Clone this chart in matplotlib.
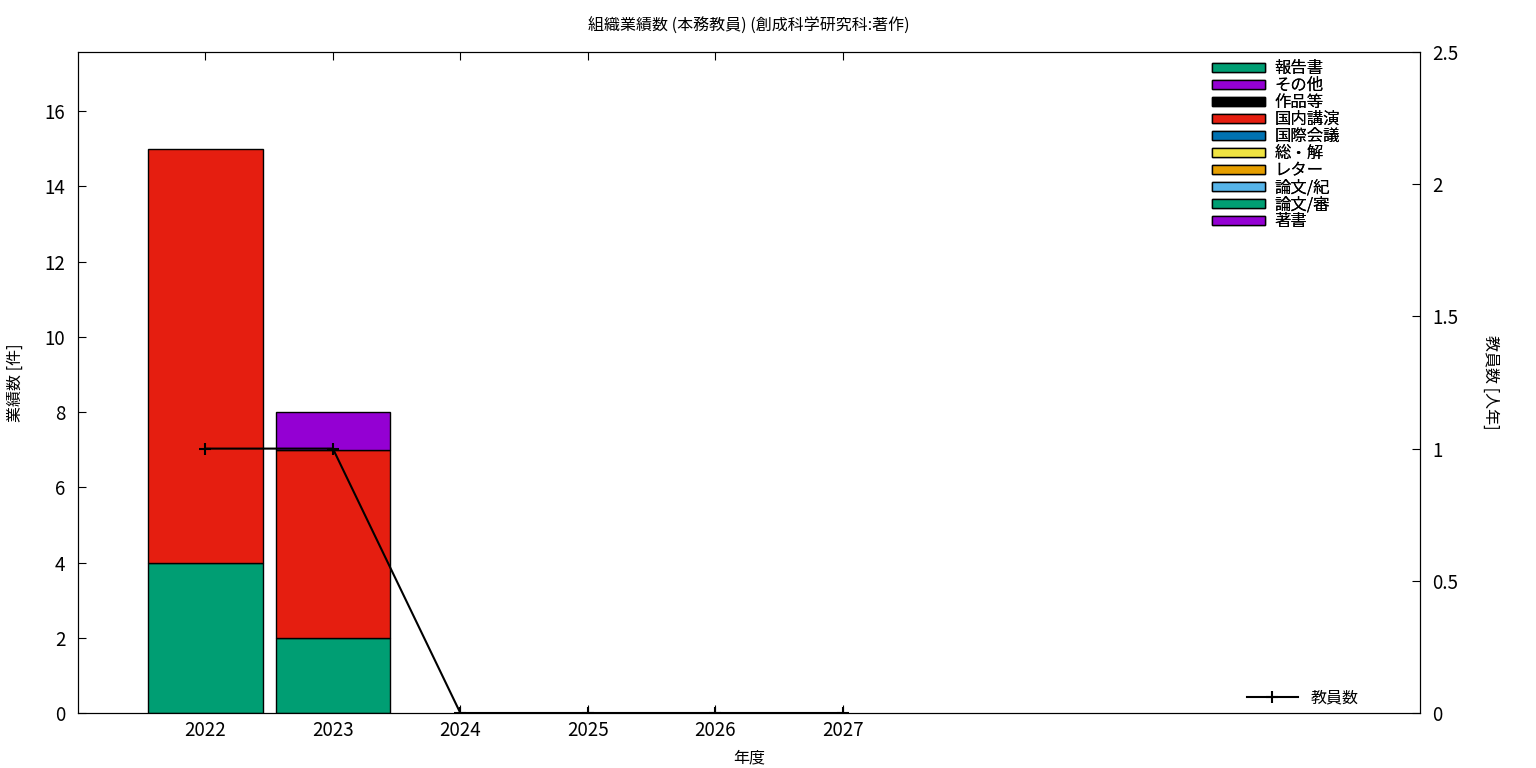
import matplotlib
matplotlib.use("Agg")
import matplotlib.pyplot as plt
from matplotlib.patches import Patch
from matplotlib.lines import Line2D
import numpy as np

plt.rcParams['font.family'] = ['Noto Sans CJK JP', 'DejaVu Sans']

years = [2022, 2023, 2024, 2025, 2026, 2027]
# stack order bottom -> top
categories = ['著書', '論文/審', '論文/紀', 'レター', '総・解', '国際会議', '国内講演', '作品等', 'その他', '報告書']
colors = ['#9400d3', '#009e73', '#56b4e9', '#e69f00', '#f0e442', '#0072b2', '#e51e10', '#000000', '#9400d3', '#009e73']
values = {
    '著書':   [0, 0, 0, 0, 0, 0],
    '論文/審': [4, 2, 0, 0, 0, 0],
    '論文/紀': [0, 0, 0, 0, 0, 0],
    'レター':  [0, 0, 0, 0, 0, 0],
    '総・解':  [0, 0, 0, 0, 0, 0],
    '国際会議': [0, 0, 0, 0, 0, 0],
    '国内講演': [11, 5, 0, 0, 0, 0],
    '作品等':  [0, 0, 0, 0, 0, 0],
    'その他':  [0, 1, 0, 0, 0, 0],
    '報告書':  [0, 0, 0, 0, 0, 0],
}
staff = [1, 1, 0, 0, 0, 0]

fig = plt.figure(figsize=(15.36, 7.68), dpi=100)
ax = fig.add_axes([78/1536, 55/768, (1420-78)/1536, (713-52)/768])
ax2 = ax.twinx()

x = np.array(years, dtype=float)
bottom = np.zeros(len(years))
for cat, col in zip(categories, colors):
    v = np.array(values[cat], dtype=float)
    mask = v > 0
    if mask.any():
        ax.bar(x[mask], v[mask], width=0.9, bottom=bottom[mask], color=col,
               edgecolor='black', linewidth=1.0, zorder=2)
    bottom += v

ax.set_xlim(2021.0, 2031.53)
ax.set_ylim(0, 17.57)
ax2.set_ylim(0, 2.5)
ax.set_xticks(years)
ax.set_yticks(np.arange(0, 17, 2))
ax2.set_yticks([0, 0.5, 1, 1.5, 2, 2.5])
ax2.set_yticklabels(['0', '0.5', '1', '1.5', '2', '2.5'])

ax.tick_params(axis='x', direction='in', top=True, length=6, labelsize=13.5, pad=5)
ax.tick_params(axis='y', direction='in', right=False, length=6, labelsize=13.5, pad=9)
ax2.tick_params(axis='y', direction='in', length=6, labelsize=13.5, pad=9)

ax2.plot(years, staff, color='black', linewidth=1.5, marker='+', markersize=8,
         markeredgewidth=1.5, zorder=5)

ax.set_xlabel('年度', fontsize=11.5, labelpad=6)
ax.set_ylabel('業績数 [件]', fontsize=11.5, va='center')
ax.yaxis.set_label_coords(-0.047, 0.5)
ax2.set_ylabel('教員数 [人年]', fontsize=11.5, rotation=-90, va='center')
ax2.yaxis.set_label_coords(1.053, 0.5)
ax.set_title('組織業績数 (本務教員) (創成科学研究科:著作)', fontsize=11.5, pad=15)

legend_order = ['報告書', 'その他', '作品等', '国内講演', '国際会議', '総・解', 'レター', '論文/紀', '論文/審', '著書']
handles = [Patch(facecolor=colors[categories.index(c)], edgecolor='black', linewidth=1.0) for c in legend_order]
leg1 = ax.legend(handles, legend_order, loc='upper right', bbox_to_anchor=(0.949, 1.005),
                 frameon=False, fontsize=11.8, handlelength=3.2, handleheight=0.5,
                 labelspacing=0.0, handletextpad=0.6, borderaxespad=0.3)
ax.add_artist(leg1)
lh = [Line2D([0], [0], color='black', linewidth=1.5, marker='+', markersize=8, markeredgewidth=1.5)]
ax2.legend(lh, ['教員数'], loc='lower right', bbox_to_anchor=(0.965, -0.012), frameon=False,
           fontsize=11.5, handlelength=3.2, handletextpad=0.8)

fig.savefig('out.png', dpi=100)
